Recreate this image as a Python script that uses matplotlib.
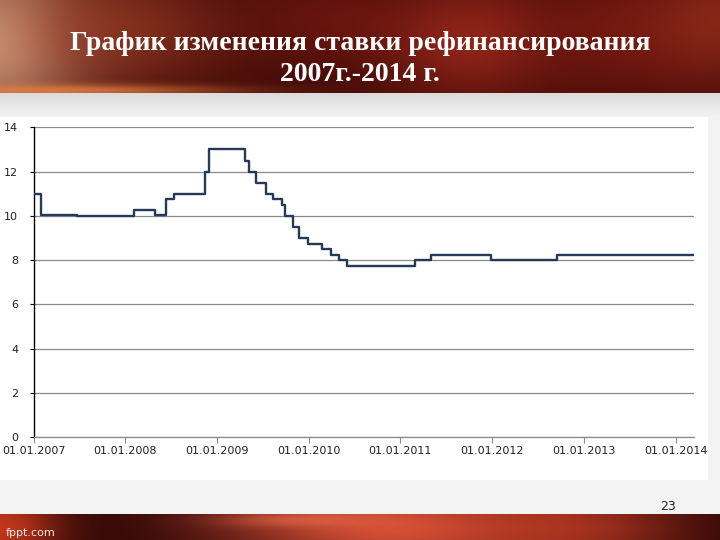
import numpy as np
import matplotlib
matplotlib.use("Agg")
import matplotlib.pyplot as plt
from datetime import datetime

# ---- data ----
change_dates = ["2007-01-01", "2007-01-29", "2007-06-22", "2008-02-04", "2008-04-29",
                "2008-06-10", "2008-07-14", "2008-11-12", "2008-12-01", "2009-04-24",
                "2009-05-10", "2009-06-05", "2009-07-13", "2009-08-10", "2009-09-15",
                "2009-09-30", "2009-10-30", "2009-11-25", "2009-12-28", "2010-02-24",
                "2010-03-29", "2010-04-30", "2010-06-01", "2011-02-28", "2011-05-03",
                "2011-12-26", "2012-09-14", "2014-03-15"]
rates = [11.0, 10.05, 10.0, 10.25, 10.05,
         10.75, 11.0, 12.0, 13.0, 12.5,
         12.0, 11.5, 11.0, 10.75, 10.5,
         10.0, 9.5, 9.0, 8.75, 8.5,
         8.25, 8.0, 7.75, 8.0, 8.25,
         8.0, 8.25, 8.25]
tick_years = [2007, 2008, 2009, 2010, 2011, 2012, 2013, 2014]
tick_labels = ["01.01.%d" % y for y in tick_years]
y_ticks = [0, 2, 4, 6, 8, 10, 12, 14]
title_lines = ["График изменения ставки рефинансирования", "2007г.-2014 г."]

W, H = 720, 540
fig = plt.figure(figsize=(7.2, 5.4), dpi=100)
fig.patch.set_facecolor("#f3f3f3")

def px_axes(x0, y0, x1, y1):
    return fig.add_axes([x0 / W, 1 - y1 / H, (x1 - x0) / W, (y1 - y0) / H])

def blob_image(w, h, base, blobs):
    yy, xx = np.mgrid[0:h, 0:w]
    img = np.zeros((h, w, 3)) + np.array(base)
    for (cx, cy, sx, sy, col, a) in blobs:
        g = a * np.exp(-(((xx - cx) / sx) ** 2 + ((yy - cy) / sy) ** 2))
        img = img * (1 - g[..., None]) + np.array(col) * g[..., None]
    return np.clip(img, 0, 1)

def hexrgb(h):
    return matplotlib.colors.to_rgb(h)

# top band
top = px_axes(0, 0, W, 93)
top_img = blob_image(W, 93, hexrgb("#3e0806"), [
    (0, 40, 90, 80, hexrgb("#e0b090"), 0.9),
    (120, 30, 120, 60, hexrgb("#9a3a22"), 0.7),
    (330, 20, 90, 50, hexrgb("#7a1a10"), 0.6),
    (470, 40, 90, 60, hexrgb("#b03020"), 0.7),
    (640, 30, 110, 70, hexrgb("#8a2014"), 0.7),
    (720, 20, 60, 60, hexrgb("#a03420"), 0.6),
    (60, 90, 160, 6, hexrgb("#e88040"), 0.8),
])
top.imshow(top_img, aspect="auto", extent=[0, 1, 0, 1])
top.axis("off")
top.text(0.5, 0.535, title_lines[0], transform=top.transAxes, ha="center", va="center",
         color="white", fontsize=20, fontweight="bold", family="Liberation Serif")
top.text(0.5, 0.195, title_lines[1], transform=top.transAxes, ha="center", va="center",
         color="white", fontsize=20, fontweight="bold", family="Liberation Serif")

# gray transition band
gb = px_axes(0, 93, W, 117)
grad = np.linspace(0.86, 0.95, 24)[:, None, None] * np.ones((24, W, 3))
gb.imshow(grad, aspect="auto", extent=[0, 1, 0, 1])
gb.axis("off")

# white chart background
wb = px_axes(0, 117, 708, 480)
wb.set_facecolor("white")
wb.set_xticks([]); wb.set_yticks([])
for s in wb.spines.values():
    s.set_visible(False)

# bottom band
bot = px_axes(0, 514, W, H)
bot_img = blob_image(W, 26, hexrgb("#2a0404"), [
    (0, 13, 60, 40, hexrgb("#c83a1c"), 0.95),
    (400, 13, 180, 40, hexrgb("#e0553a"), 0.95),
    (300, 5, 80, 8, hexrgb("#f07050"), 0.6),
    (560, 13, 120, 40, hexrgb("#c03a22"), 0.7),
])
bot.imshow(bot_img, aspect="auto", extent=[0, 1, 0, 1])
bot.axis("off")
bot.text(0.008, 0.25, "fppt.com", transform=bot.transAxes, ha="left", va="center",
         color="#f4e8e4", fontsize=8)

fig.text(668 / W, 1 - 507 / H, "23", ha="center", va="center", fontsize=9, color="#222222")

# chart
ax = px_axes(33.5, 127.3, 694, 437.3)
ax.set_facecolor("none")
d = [datetime.strptime(s, "%Y-%m-%d") for s in change_dates]
ax.plot(d, rates, drawstyle="steps-post", color="#243a58", lw=1.7, zorder=3)
ax.set_xlim(datetime(2007, 1, 1), datetime(2014, 3, 15))
ax.set_ylim(0, 14)
ax.set_yticks(y_ticks)
ax.set_yticklabels([str(v) for v in y_ticks], fontsize=8, color="#222222")
ax.set_xticks([datetime(y, 1, 1) for y in tick_years])
ax.set_xticklabels(tick_labels, fontsize=8, color="#222222")
ax.grid(axis="y", color="#8a8a8a", lw=0.9)
ax.set_axisbelow(True)
for s in ["top", "right"]:
    ax.spines[s].set_visible(False)
ax.spines["left"].set_color("black")
ax.spines["left"].set_linewidth(1.0)
ax.spines["bottom"].set_color("#8a8a8a")
ax.spines["bottom"].set_linewidth(0.9)
ax.tick_params(axis="y", length=3, color="black", pad=8)
ax.tick_params(axis="x", length=4, color="#8a8a8a", pad=2)

fig.savefig("out.png", dpi=100)
